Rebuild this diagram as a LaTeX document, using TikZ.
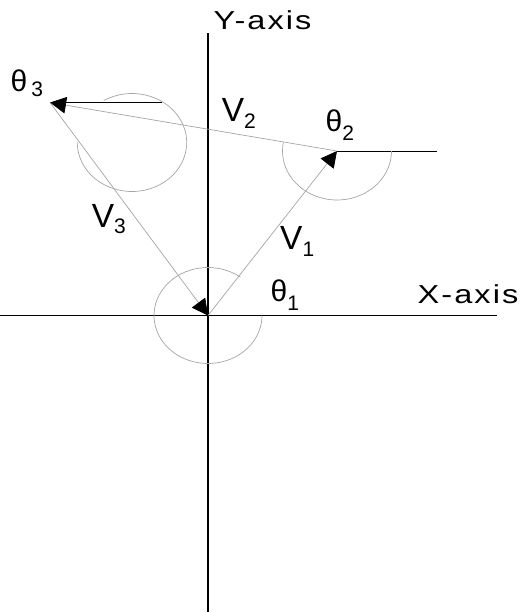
\documentclass[tikz,border=0pt]{standalone}
\usepackage{fontspec}
\setmainfont{Liberation Sans}
\newfontfamily\axisfont[FakeStretch=1.25,LetterSpace=8]{Liberation Sans}
\usetikzlibrary{arrows.meta}
\definecolor{vecgray}{RGB}{165, 165, 165}

\newcommand{\sublabel}[4]{{\fontsize{#1}{#1}\selectfont #2}\raisebox{#4pt}{\fontsize{21}{21}\selectfont #3}}

\begin{document}
\begin{tikzpicture}[x=1pt, y=-1pt,
    axis/.style={line width=1.2pt},
    vec/.style={vecgray, line width=0.7pt, -{Triangle[length=16pt, width=16.5pt, color=black]}},
    ref/.style={line width=1pt},
    angarc/.style={vecgray, line width=0.7pt},
    lbl/.style={anchor=base west, inner sep=0pt}]
  \useasboundingbox (0,0) rectangle (523,613);
  \coordinate (o) at (208,315.5);
  \coordinate (p1) at (337,151);
  \coordinate (p3) at (50,102.5);
  \coordinate (c3) at (132,142.5);
  \coordinate (h1) at (437,151);
  \coordinate (h3) at (162,102.5);
  \coordinate (xl) at (0,315.5);
  \coordinate (xr) at (497,315.5);
  \coordinate (yt) at (208,33);
  \coordinate (yb) at (208,612);
  % axes
  \draw[axis] (xl) -- (xr);
  \draw[axis] (yt) -- (yb);
  \node[lbl] (ylab) at (213.5,29.3) {\axisfont\fontsize{26}{26}\selectfont Y-axis};
  \node[lbl] (xlab) at (417.5,303.3) {\axisfont\fontsize{26}{26}\selectfont X-axis};
  % reference lines
  \draw[ref] (p1) -- (h1);
  \draw[ref] (p3) -- (h3);
  % angle arcs
  \draw[angarc] (o) ++(-53:54 and 48) arc[start angle=-53, end angle=-360, x radius=54, y radius=48];
  \draw[angarc] (p1) ++(-170:54.5 and 49) arc[start angle=-170, end angle=-360, x radius=54.5, y radius=49];
  \draw[angarc] (c3) ++(-121:54.7 and 49) arc[start angle=-121, end angle=180, x radius=54.7, y radius=49];
  % vectors
  \draw[vec] (o) -- (p1);
  \draw[vec] (p1) -- (p3);
  \draw[vec] (p3) -- (o);
  \node[lbl] (v1) at (280,249.3) {\sublabel{33.5}{V}{1}{-6.7}};
  \node[lbl] (v2) at (221.7,121.7) {\sublabel{33.5}{V}{2}{-6.3}};
  \node[lbl] (v3) at (91.7,227) {\sublabel{33.5}{V}{3}{-6}};
  \node[lbl] (t1) at (270.5,301.7) {\sublabel{30}{θ}{1}{-8.3}};
  \node[lbl] (t2) at (325.5,131.7) {\sublabel{30}{θ}{2}{-8.3}};
  \node[lbl] (t3) at (10.5,91.7) {\sublabel{30}{θ}{\hspace{4pt}3}{-4.3}};
\end{tikzpicture}
\end{document}
